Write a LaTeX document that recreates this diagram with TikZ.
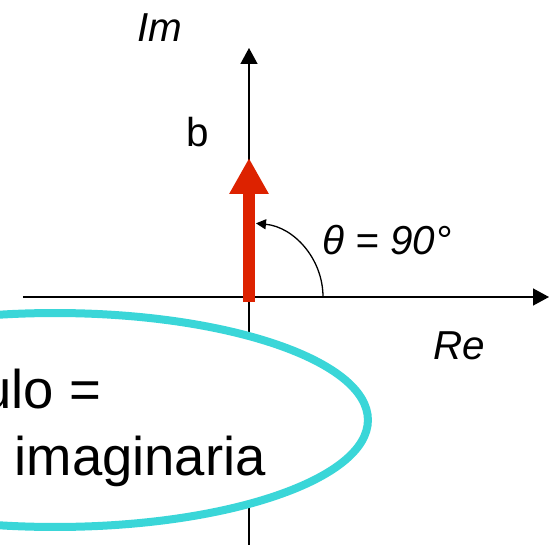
\documentclass[tikz,border=0pt]{standalone}
\usepackage{fontspec}
\setmainfont{Liberation Sans}
\usepackage{tikz}
\usetikzlibrary{calc,arrows.meta,shapes.geometric,positioning}
\definecolor{vecred}{RGB}{221,34,0}
\definecolor{ringcyan}{RGB}{58,214,216}
\tikzset{
  axis/.style={line width=0.03cm, -{Triangle[length=0.32cm,width=0.34cm]}},
  lbl/.style={inner sep=0pt, font=\fontsize{23}{28}\selectfont},
}

\begin{document}
\begin{tikzpicture}[x=0.02cm, y=0.02cm]
					\useasboundingbox (-249, -247) rectangle (301, 297);
					\clip (-249, -247) rectangle (301, 297);
					\coordinate (origin) at (0, 0);
					\coordinate (left) at ($(origin) + (-226, 0)$);
					\coordinate (right) at ($(origin) + (300, 0)$);
					\coordinate (bottom) at ($(origin) + (0, -250)$);
					\coordinate (top) at ($(origin) + (0, 249)$);
					\draw [axis] (left) -- (right);
					\draw [axis] (bottom) -- (top);

					\coordinate (foot) at ($(origin) + (0, -5)$);
					\coordinate (tip) at ($(origin) + (0, 139)$);
					\draw [vecred, line width=0.24cm, -{Triangle[length=0.72cm,width=0.74cm]}] (foot) -- (tip);

					\coordinate (arcstart) at ($(origin) + (74, 0)$);
					\draw [line width=0.026cm, -{Triangle[length=0.2cm,width=0.2cm]}] (arcstart) arc [start angle=0, end angle=84.6, radius=74];

					\node[lbl, anchor=base] (im) at ($(origin) + (-89, 255)$) {\itshape Im};
					\node[lbl, anchor=base] (b) at ($(origin) + (-51.5, 150)$) {b};
					\node[lbl, anchor=base west] (theta) at ($(origin) + (73, 42)$) {\itshape θ = 90°};
					\node[lbl, anchor=base] (re) at ($(origin) + (210, -62)$) {\itshape Re};

					\node[draw=ringcyan, fill=white, line width=0.16cm, ellipse, inner sep=0pt, minimum width=12.52cm, minimum height=4.28cm] (ring) at ($(origin) + (-194, -123)$) {};
					\node[inner sep=0pt, anchor=base west, font=\fontsize{31}{36}\selectfont] (mod1) at ($(origin) + (-374, -111)$) {Módulo =};
					\node[inner sep=0pt, anchor=base west, font=\fontsize{31}{36}\selectfont] (mod2) at ($(origin) + (-374, -178)$) {parte imaginaria};
				\end{tikzpicture}
\end{document}
